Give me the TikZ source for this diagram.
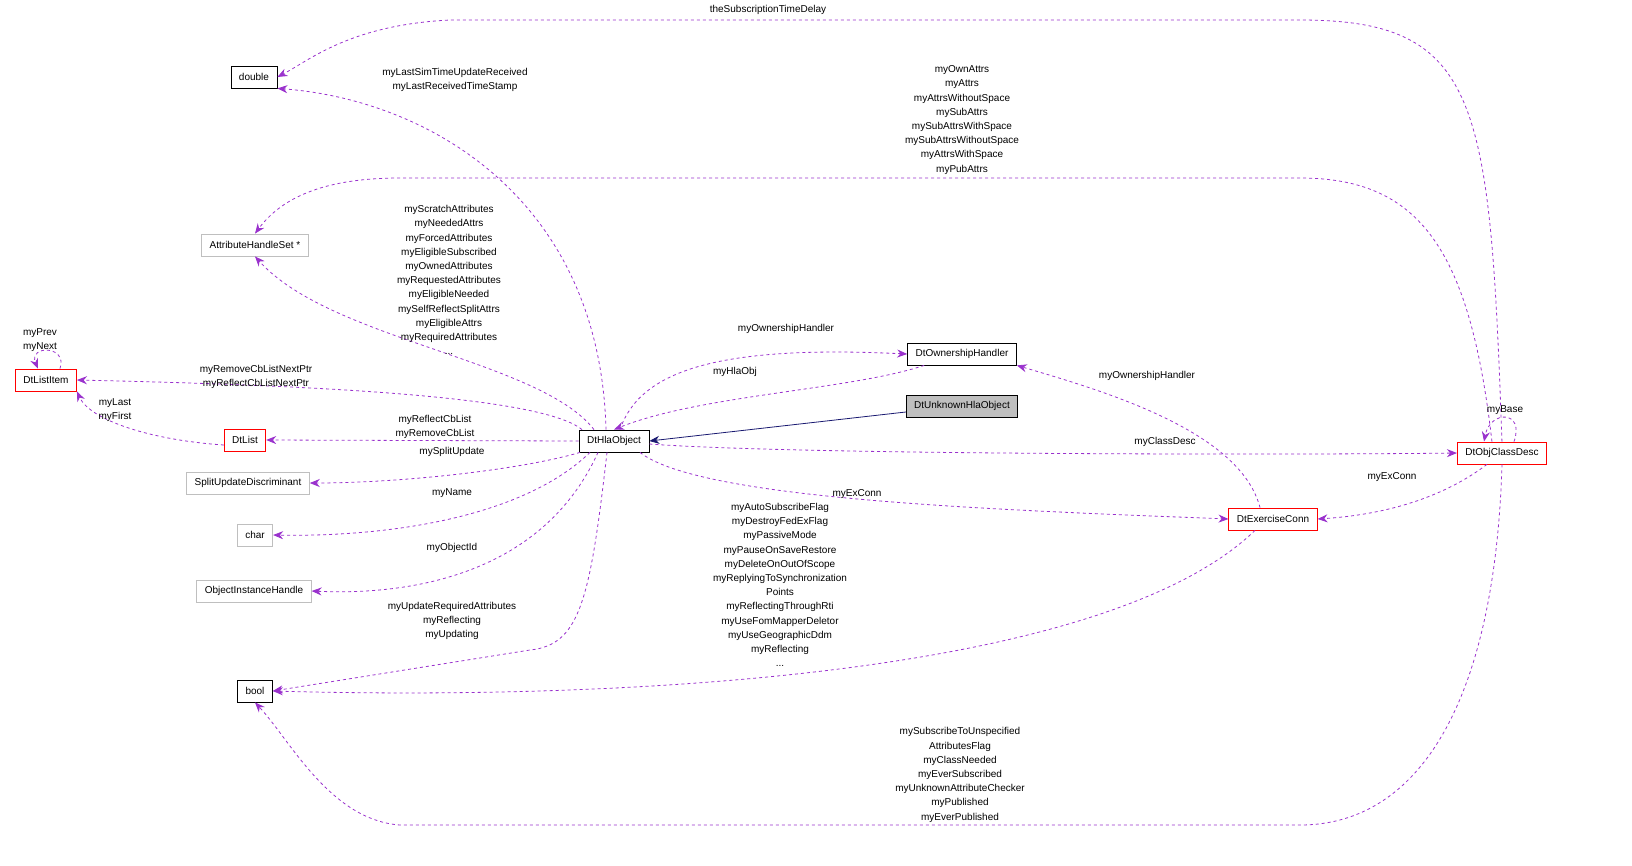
\documentclass[tikz,border=0pt]{standalone}
\usepackage{fontspec}
\setmainfont{Liberation Sans}
\usetikzlibrary{arrows.meta}
\definecolor{mempurple}{HTML}{9A32CD}
\definecolor{inhnavy}{HTML}{191970}
\definecolor{boxgray}{HTML}{BFBFBF}
\tikzset{
  cls/.style={draw=black,fill=white,minimum height=22pt,inner xsep=8pt,line width=0.8pt,font=\fontsize{10}{12}\selectfont},
  clsred/.style={cls,draw=red},
  clsgray/.style={cls,draw=boxgray},
  member/.style={-{Stealth[length=10pt,width=8pt]},dashed,color=mempurple,line width=0.8pt},
  inherit/.style={-{Stealth[length=10pt,width=8pt]},color=inhnavy,line width=0.8pt},
  lbl/.style={align=center,inner sep=0pt,font=\fontsize{10}{14.2}\selectfont}
}
\begin{document}
\begin{tikzpicture}[x=1pt,y=-1pt]
  \useasboundingbox (0,0) rectangle (1632,865);
  % classes
  \node[cls] (double) at (254,77) {double};
  \node[clsgray] (ahs) at (255,245) {AttributeHandleSet *};
  \node[clsred] (listitem) at (46,380) {DtListItem};
  \node[clsred] (list) at (245,440) {DtList};
  \node[clsgray] (sud) at (248,483) {SplitUpdateDiscriminant};
  \node[clsgray] (char) at (255,535) {char};
  \node[clsgray] (oih) at (254,591) {ObjectInstanceHandle};
  \node[cls] (bool) at (255,691) {bool};
  \node[cls] (hla) at (614,441) {DtHlaObject};
  \node[cls] (owner) at (962,354) {DtOwnershipHandler};
  \node[cls,fill=boxgray] (unknown) at (962,406) {DtUnknownHlaObject};
  \node[clsred] (objclass) at (1502,453) {DtObjClassDesc};
  \node[clsred] (exconn) at (1273,519) {DtExerciseConn};

  % members of DtObjClassDesc
  \draw[member] (objclass.north west) ++(45,0) .. controls (1490,100) and (1480,20) .. (1300,20)
    -- (450,20) .. controls (350,25) and (310,60) .. (double.east);
  \node[lbl] (l1) at (768,10) {theSubscriptionTimeDelay};
  \draw[member] (objclass.north west) ++(35,0) .. controls (1470,250) and (1420,178) .. (1300,178)
    -- (400,178) .. controls (320,178) and (280,200) .. (ahs.north);
  \node[lbl] (l2) at (962,120) {myOwnAttrs\\myAttrs\\myAttrsWithoutSpace\\mySubAttrs\\mySubAttrsWithSpace\\mySubAttrsWithoutSpace\\myAttrsWithSpace\\myPubAttrs};
  \draw[member] (objclass.north) ++(12,0) .. controls (1525,410) and (1490,410) .. ([xshift=-18pt]objclass.north);
  \node[lbl] (l3) at (1505,410) {myBase};
  \draw[member] (objclass.south west) ++(30,0) .. controls (1440,500) and (1380,515) .. (exconn.east);
  \node[lbl] (l4) at (1392,477) {myExConn};
  \draw[member] (objclass.south) .. controls (1495,700) and (1420,825) .. (1300,825)
    -- (400,825) .. controls (330,820) and (290,740) .. (bool.south);
  \node[lbl] (l5) at (960,775) {mySubscribeToUnspecified\\AttributesFlag\\myClassNeeded\\myEverSubscribed\\myUnknownAttributeChecker\\myPublished\\myEverPublished};

  % members of DtHlaObject
  \draw[member] (hla.north) ++(-8,0) .. controls (600,200) and (430,100) .. (double.south east);
  \node[lbl] (l6) at (455,80) {myLastSimTimeUpdateReceived\\myLastReceivedTimeStamp};
  \draw[member] (hla.north) ++(-20,0) .. controls (540,360) and (330,340) .. (ahs.south);
  \node[lbl] (l7) at (449,280) {myScratchAttributes\\myNeededAttrs\\myForcedAttributes\\myEligibleSubscribed\\myOwnedAttributes\\myRequestedAttributes\\myEligibleNeeded\\mySelfReflectSplitAttrs\\myEligibleAttrs\\myRequiredAttributes\\...};
  \draw[member] (hla.north) ++(-32,0) .. controls (540,395) and (300,385) .. (listitem.east);
  \node[lbl] (l8) at (256,377) {myRemoveCbListNextPtr\\myReflectCbListNextPtr};
  \draw[member] (hla.west) -- (list.east);
  \node[lbl] (l9) at (435,427) {myReflectCbList\\myRemoveCbList};
  \draw[member] (hla.south) ++(-34,0) .. controls (520,470) and (400,483) .. (sud.east);
  \node[lbl] (l10) at (452,452) {mySplitUpdate};
  \draw[member] (hla.south) ++(-24,0) .. controls (520,520) and (380,537) .. (char.east);
  \node[lbl] (l11) at (452,493) {myName};
  \draw[member] (hla.south) ++(-16,0) .. controls (540,580) and (400,595) .. (oih.east);
  \node[lbl] (l12) at (452,548) {myObjectId};
  \draw[member] (hla.south) ++(-7,0) .. controls (590,600) and (580,645) .. (530,650) -- (bool.east);
  \node[lbl] (l13) at (452,621) {myUpdateRequiredAttributes\\myReflecting\\myUpdating};
  \draw[member] (hla.north) ++(6,0) .. controls (640,370) and (720,345) .. (owner.west);
  \node[lbl] (l14) at (786,329) {myOwnershipHandler};
  \draw[member] (hla.east) ++(0,3) .. controls (800,455) and (1300,455) .. (objclass.west);
  \node[lbl] (l15) at (1165,442) {myClassDesc};
  \draw[member] (hla.south) ++(26,0) .. controls (700,500) and (1000,510) .. (exconn.west);
  \node[lbl] (l16) at (857,494) {myExConn};

  % other members
  \draw[member] (owner.south west) ++(17,0) .. controls (850,390) and (700,395) .. (hla.north);
  \node[lbl] (l17) at (735,372) {myHlaObj};
  \draw[member] (exconn.north) ++(-13,0) .. controls (1240,430) and (1100,390) .. (owner.south east);
  \node[lbl] (l18) at (1147,376) {myOwnershipHandler};
  \draw[member] (exconn.south) ++(-18,0) .. controls (1100,680) and (600,700) .. (bool.east);
  \node[lbl] (l19) at (780,585) {myAutoSubscribeFlag\\myDestroyFedExFlag\\myPassiveMode\\myPauseOnSaveRestore\\myDeleteOnOutOfScope\\myReplyingToSynchronization\\Points\\myReflectingThroughRti\\myUseFomMapperDeletor\\myUseGeographicDdm\\myReflecting\\...};
  \draw[member] (list.west) ++(0,5) .. controls (150,440) and (90,420) .. (listitem.south east);
  \node[lbl] (l20) at (115,410) {myLast\\myFirst};
  \draw[member] (listitem.north) ++(14,0) .. controls (68,345) and (28,345) .. ([xshift=-8pt]listitem.north);
  \node[lbl] (l21) at (40,340) {myPrev\\myNext};

  % inheritance
  \draw[inherit] (unknown.west) ++(0,6) -- (hla.east);
\end{tikzpicture}
\end{document}
